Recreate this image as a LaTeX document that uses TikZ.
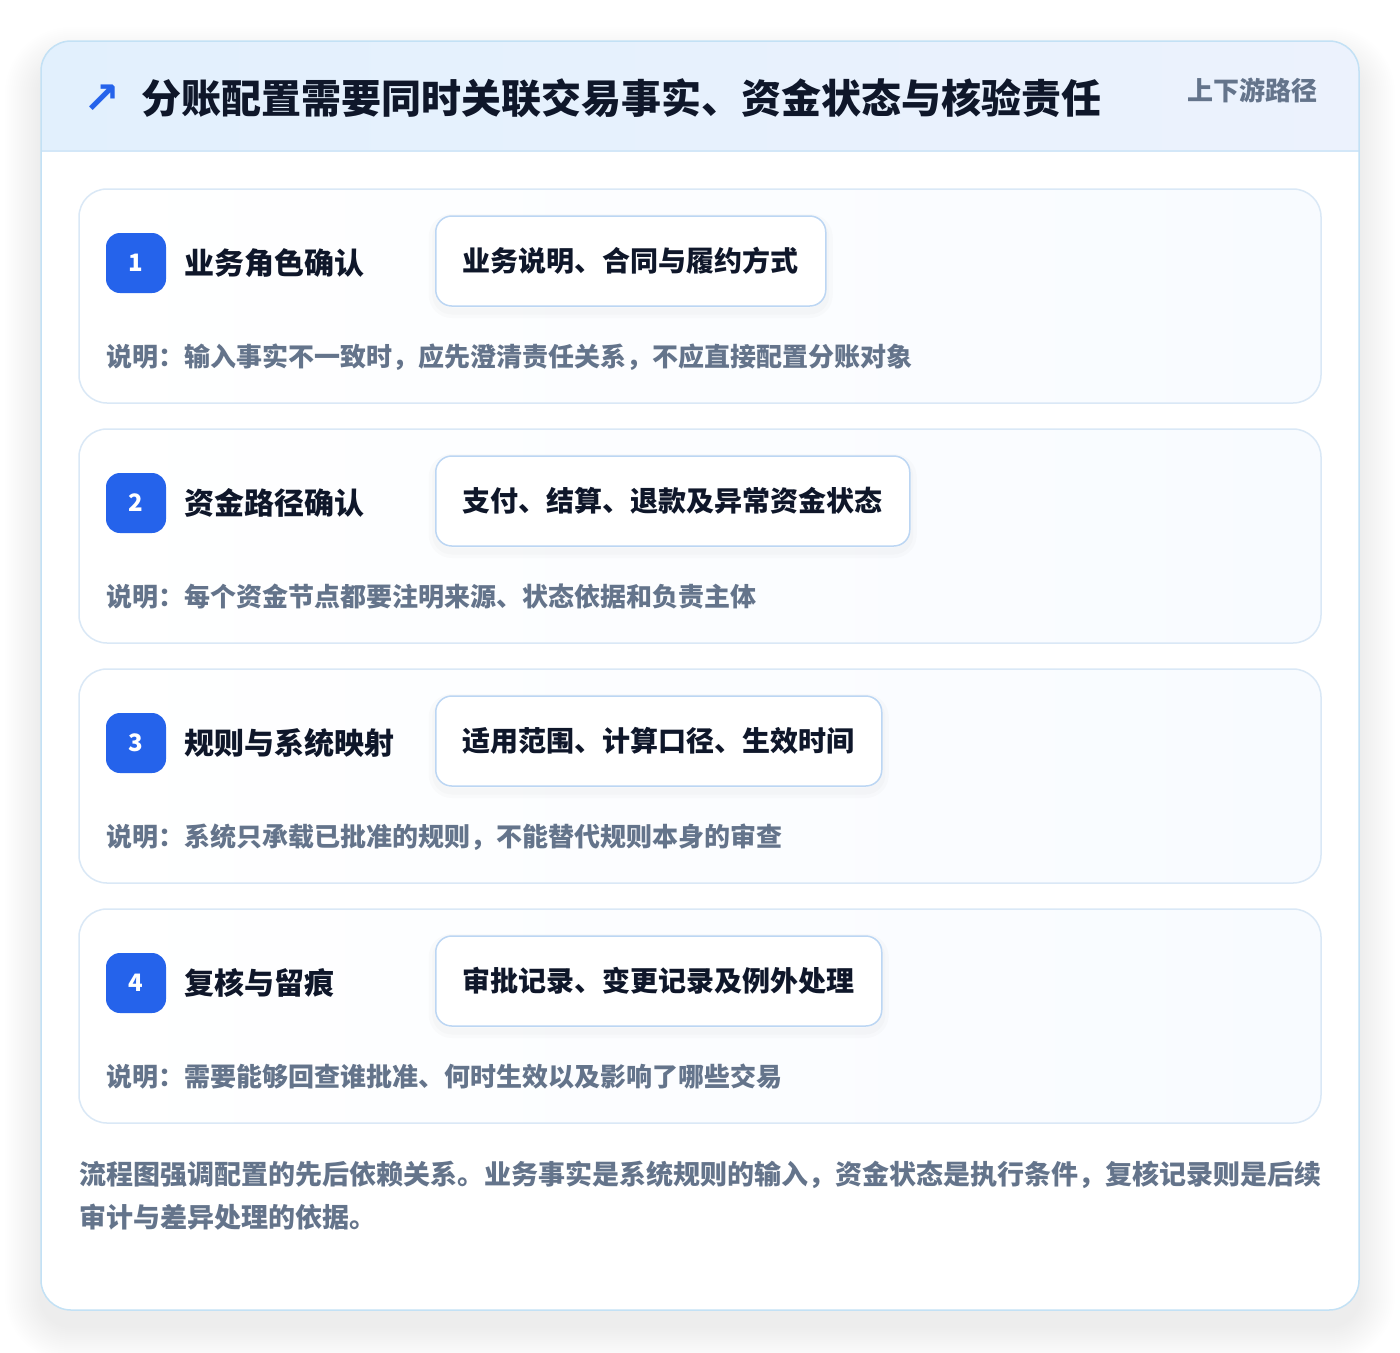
\documentclass[tikz,border=0pt]{standalone}
\usepackage{fontspec}
\setmainfont{Noto Sans CJK SC}
\newfontfamily\symfont{DejaVu Sans}
\usetikzlibrary{positioning}

\definecolor{pageline}{HTML}{C3E1F5}
\definecolor{headleft}{HTML}{E2F0FD}
\definecolor{headright}{HTML}{ECF2FD}
\definecolor{headrule}{HTML}{D3E7F8}
\definecolor{cardline}{HTML}{DAE8F6}
\definecolor{cardtint}{HTML}{F8FBFF}
\definecolor{tagline}{HTML}{BCD6F3}
\definecolor{badgeblue}{HTML}{2563EB}
\definecolor{ink}{HTML}{0F172A}
\definecolor{slate}{HTML}{64748B}

\begin{document}
\begin{tikzpicture}[x=1pt,y=-1pt,
  card/.style={draw=cardline, line width=1.5pt, rounded corners=28pt,
    left color=white, right color=cardtint},
  badge/.style={fill=badgeblue, rounded corners=14pt, minimum size=60pt,
    inner sep=0pt, text=white, font=\bfseries\fontsize{24}{24}\selectfont},
  steptitle/.style={anchor=west, inner sep=0pt, text=ink,
    font=\bfseries\fontsize{30}{30}\selectfont},
  tagbox/.style={anchor=west, draw=tagline, line width=1.5pt, fill=white,
    rounded corners=16pt, minimum height=90pt, inner xsep=27pt, text=ink,
    font=\bfseries\fontsize{28}{28}\selectfont,
    preaction={draw=black, opacity=0.015, line width=14pt, transform canvas={yshift=-5pt}},
    preaction={draw=black, opacity=0.015, line width=7pt, transform canvas={yshift=-5pt}}},
  note/.style={anchor=west, inner sep=0pt, text=slate,
    font=\bfseries\fontsize{26}{26}\selectfont},
  summary/.style={anchor=west, inner sep=0pt, text=slate,
    font=\bfseries\fontsize{27}{27}\selectfont}]

\useasboundingbox[fill=white] (0,0) rectangle (1400,1352);

% soft shadow of the page card
\foreach \s in {2,4,...,36}
  \fill[black, opacity=0.0035, rounded corners={30pt+\s pt}]
    (41-\s,{41-\s+22}) rectangle (1359+\s,{1310+\s+16});

\fill[white, rounded corners=30pt] (41,41) rectangle (1359,1310);
\begin{scope}
  \clip[rounded corners=30pt] (41,41) rectangle (1359,1310);
  \fill[left color=headleft, right color=headright] (41,41) rectangle (1359,151);
  \draw[headrule, line width=1.5pt] (41,151) -- (1359,151);
\end{scope}
\draw[pageline, line width=1.5pt, rounded corners=30pt] (41,41) rectangle (1359,1310);

% header
\node[anchor=center, inner sep=0pt, text=badgeblue, font=\symfont\bfseries\fontsize{44}{44}\selectfont]
  (icon) at (102,99) {↗};
\node[anchor=west, inner sep=0pt, text=ink, font=\bfseries\fontsize{40}{40}\selectfont]
  (title) at (141,98) {分账配置需要同时关联交易事实、资金状态与核验责任};
\node[anchor=east, inner sep=0pt, text=slate, font=\bfseries\fontsize{26}{26}\selectfont]
  (route) at (1318,90) {上下游路径};

% steps
\foreach \n/\ttl/\tag/\txt [count=\i from 0] in {
  1/{业务角色确认}/{业务说明、合同与履约方式}/{输入事实不一致时，应先澄清责任关系，不应直接配置分账对象},
  2/{资金路径确认}/{支付、结算、退款及异常资金状态}/{每个资金节点都要注明来源、状态依据和负责主体},
  3/{规则与系统映射}/{适用范围、计算口径、生效时间}/{系统只承载已批准的规则，不能替代规则本身的审查},
  4/{复核与留痕}/{审批记录、变更记录及例外处理}/{需要能够回查谁批准、何时生效以及影响了哪些交易}}{
  \pgfmathsetmacro\top{189+240*\i}
  \draw[card] (79,\top) rectangle (1321,{\top+214});
  \node[badge] (badge\n) at (136,{\top+74}) {\n};
  \node[steptitle] (step\n) at (184,{\top+74}) {\ttl};
  \node[tagbox] (tag\n) at (435,{\top+72}) {\tag};
  \node[note] (note\n) at (106,{\top+168}) {说明：\txt};
}

% closing remark
\node[summary] (sum1) at (79,1175) {流程图强调配置的先后依赖关系。业务事实是系统规则的输入，资金状态是执行条件，复核记录则是后续};
\node[summary] (sum2) at (79,1217) {审计与差异处理的依据。};

\end{tikzpicture}
\end{document}
